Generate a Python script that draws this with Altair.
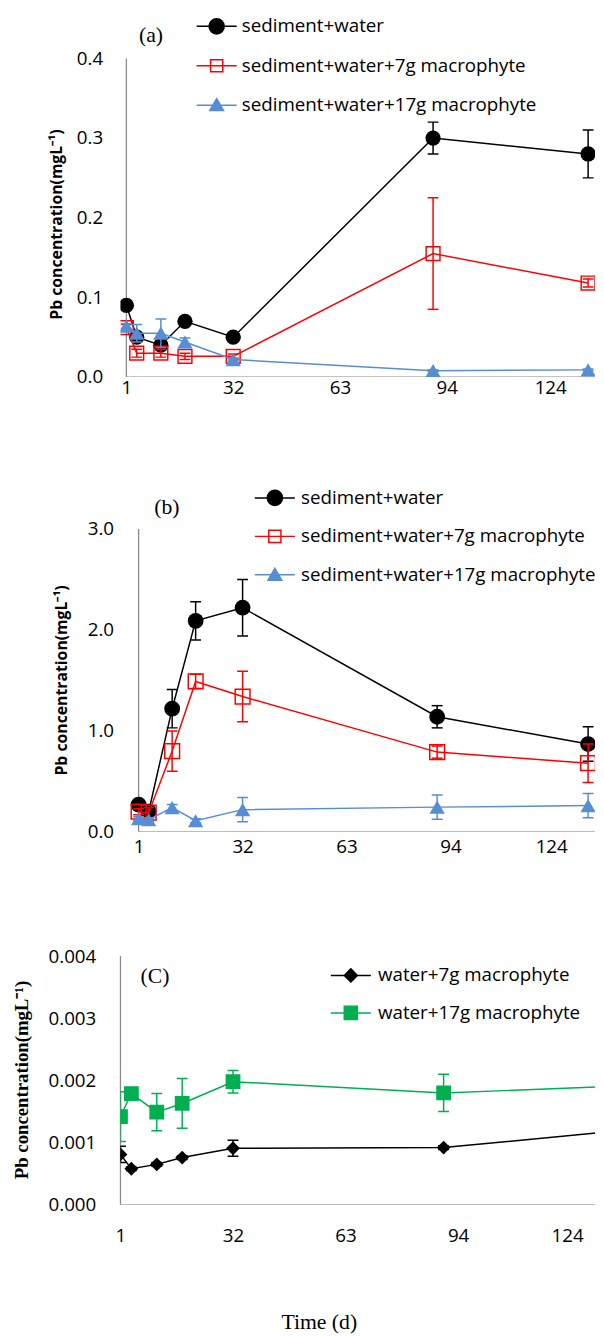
import altair as alt
import pandas as pd

# ---------------- data ----------------
DAYS = [1, 4, 11, 18, 32, 90, 135]
X_TICKS = [1, 32, 63, 94, 124]

AB_NAMES = ["sediment+water", "sediment+water+7g macrophyte", "sediment+water+17g macrophyte"]
C_NAMES = ["water+7g macrophyte", "water+17g macrophyte"]

A_SW = [0.090, 0.050, 0.040, 0.070, 0.050, 0.300, 0.280]
A_SW_ERR = [0.003, 0.003, 0.004, 0.003, 0.003, 0.020, 0.030]
A_SW7 = [0.062, 0.030, 0.030, 0.026, 0.026, 0.155, 0.118]
A_SW7_ERR = [0.004, 0.005, 0.005, 0.004, 0.003, 0.070, 0.005]
A_SW17 = [0.064, 0.055, 0.055, 0.044, 0.022, 0.008, 0.009]
A_SW17_ERR = [0.003, 0.011, 0.018, 0.005, 0.002, 0.001, 0.001]

B_SW = [0.27, 0.20, 1.22, 2.09, 2.22, 1.14, 0.87]
B_SW_ERR = [0.03, 0.03, 0.19, 0.19, 0.28, 0.11, 0.17]
B_SW7 = [0.20, 0.19, 0.80, 1.49, 1.34, 0.79, 0.68]
B_SW7_ERR = [0.03, 0.05, 0.20, 0.07, 0.25, 0.06, 0.19]
B_SW17 = [0.13, 0.12, 0.24, 0.11, 0.22, 0.245, 0.26]
B_SW17_ERR = [0.02, 0.02, 0.03, 0.02, 0.12, 0.12, 0.12]

C_W7 = [0.00081, 0.00058, 0.00065, 0.00076, 0.00091, 0.00092, 0.00117]
C_W7_ERR = [0.00013, 0.00003, 0.00003, 0.00003, 0.00013, 0.00003, 0.00005]
C_W17 = [0.00142, 0.00179, 0.00149, 0.00163, 0.00198, 0.00180, 0.00190]
C_W17_ERR = [0.00040, 0.00003, 0.00030, 0.00040, 0.00018, 0.00030, 0.00010]

# ---------------- styles ----------------
SANS = "Open Sans"
SERIF = "Liberation Serif"
BLACK = "#000000"
RED = "#FF0000"
BLUE = "#558ED5"
GREEN = "#00B050"
GRAY = "#8A8A8A"
TITLE = "Pb concentration(mgL\u207b\u00b9)"

W = 481

P_CIRCLE = "M-2.9,0L2.9,0M1.1,0A1.1,1.1,0,1,1,-1.1,0A1.1,1.1,0,1,1,1.1,0Z"
P_SQUARE = "M-2.9,0L2.9,0M-0.88,-0.88L0.88,-0.88L0.88,0.88L-0.88,0.88Z"
P_TRI = "M-2.9,0L2.9,0M0,-0.95L1.0,0.78L-1.0,0.78Z"
P_DIAM = "M-2.9,0L2.9,0M0,-0.95L0.95,0L0,0.95L-0.95,0Z"
P_FSQ = "M-2.9,0L2.9,0M-0.95,-0.95L0.95,-0.95L0.95,0.95L-0.95,0.95Z"


def panel(cfg):
    xs = alt.Scale(domain=cfg["xdom"], nice=False, zero=False)
    ys = alt.Scale(domain=cfg["ydom"], nice=False, zero=False)
    xaxis_kw = dict(values=X_TICKS, labelPadding=cfg["xlp"], labelFlush=False,
                    labelOverlap=False, title=cfg.get("xtitle"))
    if cfg.get("xtitle"):
        xaxis_kw.update(titleFont=SERIF, titleFontSize=22, titleFontWeight="normal",
                        titleColor="black", titleX=cfg["xtx"], titleY=cfg["xty"],
                        titleAlign="center", titleBaseline="middle")
    xaxis = alt.Axis(**xaxis_kw)
    yaxis = alt.Axis(values=cfg["yticks"], format=cfg["yfmt"], labelPadding=cfg["ylp"],
                     labelFlush=False, labelOverlap=False, title=TITLE,
                     titleFont=cfg["tfont"], titleFontSize=cfg["tsize"], titleFontWeight="bold",
                     titleColor="black", titleX=cfg["tx"], titleY=cfg["ty"], titleAngle=270,
                     titleAlign="center", titleBaseline="middle")

    def X(f):
        return alt.X(f, type="quantitative", scale=xs, axis=xaxis)

    def Y(f):
        return alt.Y(f, type="quantitative", scale=ys, axis=yaxis)

    layers = []
    ax_df = pd.DataFrame({"x": [1], "x1": [cfg["xdom"][1]], "y": [0], "y1": [cfg["ytop"]]})
    layers.append(alt.Chart(ax_df).mark_rule(color=GRAY, strokeWidth=1.3, clip=True)
                  .encode(x=X("x"), x2=alt.X2("x1"), y=Y("y")))
    layers.append(alt.Chart(ax_df).mark_rule(color=GRAY, strokeWidth=1.3)
                  .encode(x=X("x"), y=Y("y"), y2=alt.Y2("y1")))

    for s in cfg["series"]:
        vals, errs = s["vals"], s["errs"]
        df = pd.DataFrame({
            "day": DAYS,
            "v": vals,
            "lo": [v - e for v, e in zip(vals, errs)],
            "hi": [v + e for v, e in zip(vals, errs)],
        })
        base = alt.Chart(df)
        layers.append(base.mark_line(color=s["color"], strokeWidth=1.5, clip=True)
                      .encode(x=X("day"), y=Y("v")))
        layers.append(base.mark_rule(color=s["color"], strokeWidth=1.5, clip=True)
                      .encode(x=X("day"), y=Y("lo"), y2=alt.Y2("hi")))
        for f in ("lo", "hi"):
            layers.append(base.mark_tick(color=s["color"], orient="horizontal", size=11,
                                         thickness=1.5, opacity=1, clip=True)
                          .encode(x=X("day"), y=Y(f)))
        pkw = dict(shape=s["shape"], size=s["size"], opacity=1, clip=True,
                   strokeWidth=1.5, color=s["color"], filled=s["filled"])
        layers.append(base.mark_point(**pkw).encode(x=X("day"), y=Y("v")))

    lab = pd.DataFrame({"t": [cfg["label"]]})
    layers.append(alt.Chart(lab).mark_text(font=SERIF, fontSize=22, color="black",
                                           align="center", baseline="middle")
                  .encode(text="t:N", x=alt.value(cfg["lx"]), y=alt.value(cfg["ly"])))

    leg = alt.Legend(title=None, orient="none", legendX=cfg["legx"], legendY=cfg["legy"],
                     direction="vertical", labelFont=SANS, labelFontSize=19,
                     labelColor="black", labelOffset=cfg["lo"], labelLimit=600,
                     rowPadding=cfg["rp"], symbolSize=196, symbolStrokeWidth=1.5,
                     symbolOpacity=1, padding=0)
    names = cfg["names"]
    ldf = pd.DataFrame({"s": names})
    layers.append(alt.Chart(ldf).transform_filter("false")
                  .mark_point(opacity=1, strokeWidth=1.5, filled=True)
                  .encode(shape=alt.Shape("s:N", scale=alt.Scale(domain=names, range=cfg["paths"]), legend=leg),
                          fill=alt.Fill("s:N", scale=alt.Scale(domain=names, range=cfg["fills"]), legend=leg),
                          stroke=alt.Stroke("s:N", scale=alt.Scale(domain=names, range=cfg["strokes"]), legend=leg)))

    return alt.layer(*layers).properties(width=W, height=cfg["h"])


pa = panel(dict(
    xdom=[-0.718, 137.0], ydom=[0, 0.4], ytop=0.4, h=323, yticks=[0, 0.1, 0.2, 0.3, 0.4],
    yfmt=".1f", ylp=18, xlp=2, tfont=SANS, tsize=16, tx=-65, ty=168,
    label="(a)", lx=31, ly=-24, names=AB_NAMES,
    paths=[P_CIRCLE, P_SQUARE, P_TRI], fills=[BLACK, "white", BLUE], strokes=[BLACK, RED, BLUE],
    legx=88, legy=-42, lo=16, rp=19,
    series=[
        dict(vals=A_SW, errs=A_SW_ERR, color=BLACK, shape="circle", size=240, filled=True),
        dict(vals=A_SW7, errs=A_SW7_ERR, color=RED, shape="square", size=196, filled=False),
        dict(vals=A_SW17, errs=A_SW17_ERR, color=BLUE, shape="triangle-up", size=240, filled=True),
    ]))

pb = panel(dict(
    xdom=[-4.41, 137.06], ydom=[0, 3.2736], ytop=3.0, h=335, yticks=[0, 1, 2, 3],
    yfmt=".1f", ylp=7, xlp=6, tfont=SANS, tsize=16, tx=-59.5, ty=181,
    label="(b)", lx=47, ly=6, names=AB_NAMES,
    paths=[P_CIRCLE, P_SQUARE, P_TRI], fills=[BLACK, "white", BLUE], strokes=[BLACK, RED, BLUE],
    legx=147, legy=-13, lo=17, rp=18,
    series=[
        dict(vals=B_SW, errs=B_SW_ERR, color=BLACK, shape="circle", size=256, filled=True),
        dict(vals=B_SW7, errs=B_SW7_ERR, color=RED, shape="square", size=225, filled=False),
        dict(vals=B_SW17, errs=B_SW17_ERR, color=BLUE, shape="triangle-up", size=240, filled=True),
    ]))

pc = panel(dict(
    xdom=[1, 131.7], ydom=[0, 0.004], ytop=0.004, h=252,
    yticks=[0, 0.001, 0.002, 0.003, 0.004], yfmt=".3f", ylp=25, xlp=22,
    tfont=SERIF, tsize=19, tx=-100, ty=125,
    xtitle="Time (d)", xtx=201, xty=118,
    label="(C)", lx=35, ly=20, names=C_NAMES,
    paths=[P_DIAM, P_FSQ], fills=[BLACK, GREEN], strokes=[BLACK, GREEN],
    legx=224, legy=10, lo=18, rp=17,
    series=[
        dict(vals=C_W7, errs=C_W7_ERR, color=BLACK, shape="diamond", size=196, filled=True),
        dict(vals=C_W17, errs=C_W17_ERR, color=GREEN, shape="square", size=225, filled=True),
    ]))

chart = (
    alt.vconcat(pa, pb, pc, spacing=126, bounds="flush")
    .resolve_scale(shape="independent", fill="independent", stroke="independent")
    .resolve_legend(shape="independent", fill="independent", stroke="independent")
    .properties(padding={"left": 5, "top": 0, "right": 0, "bottom": 0}, background="white")
    .configure_view(stroke=None)
    .configure_axis(grid=False, ticks=False, domain=False, labelFont=SANS,
                    labelFontSize=19, labelColor="black")
)

chart.save("out.html", embed_options={"renderer": "svg", "actions": False})
